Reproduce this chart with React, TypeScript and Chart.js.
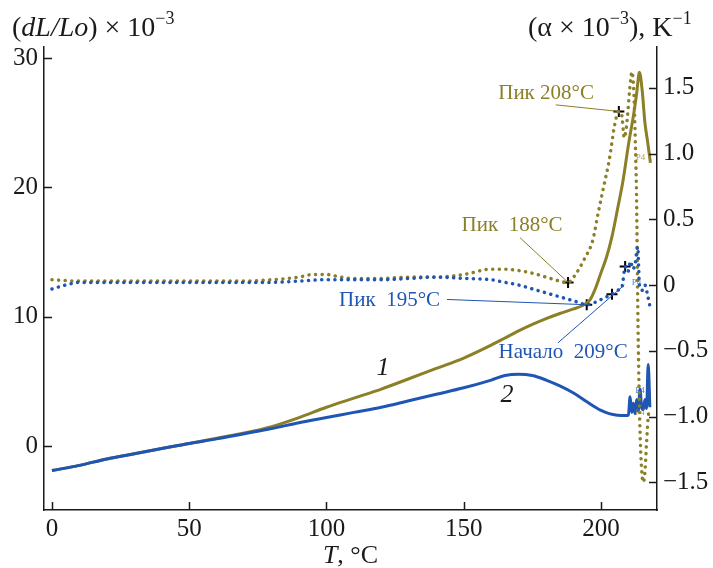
import React, { useEffect, useRef } from "react";
import { Chart, registerables } from "chart.js";

Chart.register(...registerables);

const OLIVE = "#8b7f27";
const BLUE = "#1f55b3";
const INK = "#1a1a1a";
const SERIF = "'Liberation Serif', 'Times New Roman', serif";

// Axis ticks
const xTicks = [0, 50, 100, 150, 200];
const leftTicks = [0, 10, 20, 30];
const rightTicks = [-1.5, -1, -0.5, 0, 0.5, 1, 1.5];
const rightTickLabels = ["\u22121.5", "\u22121.0", "\u22120.5", "0", "0.5", "1.0", "1.5"];

// Curve 1: dL/Lo (olive, solid, left axis)
const t1 = [0, 10, 20, 30, 40, 50, 60, 70, 80, 90, 100, 110, 120, 130, 140, 150, 160, 165, 170, 175, 180, 185, 190, 193, 196, 198, 200, 202, 204, 206, 208, 210, 212, 213, 214, 215, 216, 217, 218];
const dl1 = [-1.9, -1.5, -1.0, -0.6, -0.2, 0.2, 0.6, 1.0, 1.5, 2.2, 3.0, 3.7, 4.4, 5.2, 6.0, 6.8, 7.8, 8.35, 8.9, 9.4, 9.85, 10.25, 10.6, 10.85, 11.3, 12.2, 13.4, 14.6, 16.2, 18.3, 20.5, 23.3, 25.8, 27.3, 28.9, 27.5, 25.0, 23.5, 21.9];

// Curve 2: dL/Lo (blue, solid, left axis)
const t2 = [0, 10, 20, 30, 40, 50, 60, 70, 80, 90, 100, 110, 120, 130, 140, 150, 160, 165, 170, 175, 180, 185, 190, 195, 200, 203, 206, 209, 210, 210.6, 211.2, 211.8, 212.4, 213, 213.6, 214.2, 214.8, 215.4, 216, 216.6, 217.2, 217.8];
const dl2 = [-1.9, -1.5, -1.0, -0.6, -0.2, 0.2, 0.55, 0.95, 1.35, 1.8, 2.2, 2.6, 3.0, 3.5, 4.0, 4.5, 5.1, 5.45, 5.55, 5.45, 5.1, 4.65, 4.1, 3.4, 2.75, 2.5, 2.38, 2.35, 2.4, 3.8, 2.6, 3.3, 2.5, 3.6, 2.7, 4.4, 3.0, 2.8, 3.6, 2.9, 6.3, 3.0];

// Curve 1: alpha (olive, dotted, right axis)
const t3 = [0, 10, 20, 30, 40, 50, 60, 70, 80, 90, 95, 100, 105, 110, 120, 130, 140, 150, 160, 165, 170, 175, 180, 185, 188, 191, 194, 197, 199, 201, 203, 205, 206.5, 207.5, 208.5, 209.5, 210.5, 211.3, 212, 212.5, 213, 213.3, 213.7, 214.2, 214.8, 215.4, 216, 216.6, 217.2, 217.6];
const a3 = [0.04, 0.03, 0.03, 0.03, 0.03, 0.03, 0.03, 0.03, 0.04, 0.06, 0.08, 0.08, 0.06, 0.05, 0.05, 0.06, 0.06, 0.08, 0.12, 0.12, 0.11, 0.09, 0.06, 0.03, 0.02, 0.09, 0.2, 0.34, 0.55, 0.75, 0.95, 1.22, 1.32, 1.3, 1.12, 1.25, 1.5, 1.62, 1.45, 1.1, 0.6, 0.0, -0.6, -1.1, -1.4, -1.5, -1.42, -1.2, -1.0, -0.95];

// Curve 2: alpha (blue, dotted, right axis)
const t4 = [0, 5, 10, 20, 30, 40, 50, 60, 70, 80, 90, 100, 110, 120, 130, 140, 150, 160, 165, 170, 175, 180, 185, 190, 195, 198, 201, 204, 206, 207.6, 208.8, 209.8, 210.8, 211.6, 212.4, 213.4, 214, 215, 216, 217, 218];
const a4 = [-0.03, 0.0, 0.02, 0.02, 0.02, 0.02, 0.02, 0.02, 0.02, 0.02, 0.03, 0.04, 0.04, 0.04, 0.05, 0.06, 0.05, 0.04, 0.02, 0.0, -0.03, -0.06, -0.09, -0.12, -0.15, -0.13, -0.1, -0.07, -0.04, -0.02, 0.14, 0.1, 0.18, 0.12, 0.16, 0.29, 0.0, -0.04, 0.0, -0.08, -0.18];

// "+" markers (T, alpha)
const markT = [188, 206.5, 194.8, 204, 208.8];
const markA = [0.02, 1.32, -0.15, -0.07, 0.14];

// Annotations: text, colour, text centre (T, alpha), leader start (T, alpha), leader end (T, alpha)
const annTexts = ["Пик 208°C", "Пик  188°C", "Пик  195°C", "Начало  209°C"];
const annColors = [OLIVE, OLIVE, BLUE, BLUE];
const annX = [180.0, 167.6, 123.0, 186.2];
const annY = [1.46, 0.45, -0.12, -0.51];
const leadX0 = [183.5, 170.5, 143.9, 184.3];
const leadY0 = [1.37, 0.36, -0.11, -0.44];
const leadX1 = [206.5, 188, 194.8, 208.5];
const leadY1 = [1.32, 0.02, -0.15, 0.0];

// Curve number labels (T, dL/Lo)
const curveLabels = ["1", "2"];
const curveLabelX = [120.6, 165.8];
const curveLabelY = [6.0, 3.9];

// Small "Р4" tags (T, alpha)
const tagX = [214.4, 212.9, 214.2, 214.2];
const tagY = [0.97, 0.02, -0.8, -0.97];
const tagColors = [OLIVE, BLUE, BLUE, OLIVE];

const zip = (xs: number[], ys: number[]) => xs.map((x, i) => ({ x, y: ys[i] }));

type Seg = { text: string; italic?: boolean; sup?: boolean };

function drawRich(ctx: CanvasRenderingContext2D, segs: Seg[], x: number, y: number, size: number, align: "left" | "center" = "left") {
  const supSize = Math.round(size * 0.64);
  const fontOf = (s: Seg) => `${s.italic ? "italic " : ""}${s.sup ? supSize : size}px ${SERIF}`;
  let total = 0;
  for (const s of segs) {
    ctx.font = fontOf(s);
    total += ctx.measureText(s.text).width;
  }
  let cx = align === "center" ? x - total / 2 : x;
  ctx.textAlign = "left";
  ctx.textBaseline = "alphabetic";
  for (const s of segs) {
    ctx.font = fontOf(s);
    ctx.fillText(s.text, cx, s.sup ? y - size * 0.42 : y);
    cx += ctx.measureText(s.text).width;
  }
}

const overlayPlugin = {
  id: "overlay",
  afterDraw(chart: any) {
    const { ctx, chartArea } = chart;
    const xs = chart.scales.x;
    const yl = chart.scales.yL;
    const yr = chart.scales.yR;
    ctx.save();

    // inward tick marks
    ctx.strokeStyle = INK;
    ctx.lineWidth = 1.5;
    ctx.beginPath();
    leftTicks.forEach((v) => {
      const y = Math.round(yl.getPixelForValue(v)) + 0.5;
      ctx.moveTo(chartArea.left, y);
      ctx.lineTo(chartArea.left + 8, y);
    });
    rightTicks.forEach((v) => {
      const y = Math.round(yr.getPixelForValue(v)) + 0.5;
      ctx.moveTo(chartArea.right - 8, y);
      ctx.lineTo(chartArea.right, y);
    });
    xTicks.forEach((v) => {
      const x = Math.round(xs.getPixelForValue(v)) + 0.5;
      ctx.moveTo(x, chartArea.bottom);
      ctx.lineTo(x, chartArea.bottom - 8);
    });
    ctx.stroke();

    // leader lines
    ctx.lineWidth = 1;
    annTexts.forEach((_, i) => {
      ctx.strokeStyle = annColors[i];
      ctx.beginPath();
      ctx.moveTo(xs.getPixelForValue(leadX0[i]), yr.getPixelForValue(leadY0[i]));
      ctx.lineTo(xs.getPixelForValue(leadX1[i]), yr.getPixelForValue(leadY1[i]));
      ctx.stroke();
    });

    // annotation texts
    ctx.textAlign = "center";
    ctx.textBaseline = "middle";
    ctx.font = `21px ${SERIF}`;
    annTexts.forEach((txt, i) => {
      ctx.fillStyle = annColors[i];
      ctx.fillText(txt, xs.getPixelForValue(annX[i]), yr.getPixelForValue(annY[i]));
    });

    // curve labels
    ctx.fillStyle = INK;
    ctx.font = `italic 26px ${SERIF}`;
    curveLabels.forEach((txt, i) => {
      ctx.fillText(txt, xs.getPixelForValue(curveLabelX[i]), yl.getPixelForValue(curveLabelY[i]));
    });

    // tiny tags
    ctx.font = `9px ${SERIF}`;
    tagX.forEach((tx, i) => {
      ctx.fillStyle = tagColors[i];
      ctx.globalAlpha = 0.75;
      ctx.fillText("Р4", xs.getPixelForValue(tx), yr.getPixelForValue(tagY[i]));
    });
    ctx.globalAlpha = 1;

    // axis titles
    ctx.fillStyle = INK;
    drawRich(ctx, [{ text: "(" }, { text: "dL/Lo", italic: true }, { text: ") × 10" }, { text: "\u22123", sup: true }], 12, 36, 28);
    drawRich(ctx, [{ text: "(α × 10" }, { text: "\u22123", sup: true }, { text: "), K" }, { text: "\u22121", sup: true }], 528, 36, 28);
    drawRich(ctx, [{ text: "T", italic: true }, { text: ", °C" }], (chartArea.left + chartArea.right) / 2, 563, 26, "center");

    ctx.restore();
  },
};

export default function App() {
  const ref = useRef<HTMLCanvasElement | null>(null);

  useEffect(() => {
    if (!ref.current) return;
    const tickFont = { family: SERIF, size: 25 };
    const chart = new Chart(ref.current, {
      type: "line",
      data: {
        datasets: [
          {
            label: "α 2",
            data: zip(t4, a4),
            yAxisID: "yR",
            borderColor: BLUE,
            borderWidth: 3.5,
            borderDash: [0.1, 6.5],
            borderCapStyle: "round",
            pointRadius: 0,
            cubicInterpolationMode: "monotone",
          },
          {
            label: "α 1",
            data: zip(t3, a3),
            yAxisID: "yR",
            borderColor: OLIVE,
            borderWidth: 3.5,
            borderDash: [0.1, 6.5],
            borderCapStyle: "round",
            pointRadius: 0,
            cubicInterpolationMode: "monotone",
          },
          {
            label: "dL/Lo 2",
            data: zip(t2, dl2),
            yAxisID: "yL",
            borderColor: BLUE,
            borderWidth: 3,
            pointRadius: 0,
            cubicInterpolationMode: "monotone",
          },
          {
            label: "dL/Lo 1",
            data: zip(t1, dl1),
            yAxisID: "yL",
            borderColor: OLIVE,
            borderWidth: 3,
            pointRadius: 0,
            cubicInterpolationMode: "monotone",
          },
          {
            label: "markers",
            data: zip(markT, markA),
            yAxisID: "yR",
            showLine: false,
            pointStyle: "cross",
            pointRadius: 5.5,
            pointBorderWidth: 2,
            pointBorderColor: "#000",
            borderColor: "#000",
          },
        ] as any,
      },
      options: {
        animation: false,
        responsive: false,
        maintainAspectRatio: false,
        layout: { padding: { top: 47, left: 0, right: 0, bottom: 0 } },
        plugins: { legend: { display: false }, tooltip: { enabled: false } },
        scales: {
          x: {
            type: "linear",
            min: -2.9,
            max: 220.4,
            grid: { display: false, drawTicks: false },
            border: { display: true, color: INK, width: 1.5 },
            afterBuildTicks: (s: any) => {
              s.ticks = xTicks.map((v) => ({ value: v }));
            },
            afterFit: (s: any) => {
              s.height = 58;
            },
            ticks: { font: tickFont, color: INK, padding: 4, maxRotation: 0, autoSkip: false },
          },
          yL: {
            type: "linear",
            position: "left",
            min: -4.95,
            max: 30.86,
            grid: { display: false, drawTicks: false },
            border: { display: true, color: INK, width: 1.5 },
            afterBuildTicks: (s: any) => {
              s.ticks = leftTicks.map((v) => ({ value: v }));
            },
            afterFit: (s: any) => {
              s.width = 44;
            },
            ticks: { font: tickFont, color: INK, padding: 6, autoSkip: false },
          },
          yR: {
            type: "linear",
            position: "right",
            min: -1.711,
            max: 1.81,
            grid: { display: false, drawTicks: false },
            border: { display: true, color: INK, width: 1.5 },
            afterBuildTicks: (s: any) => {
              s.ticks = rightTicks.map((v) => ({ value: v }));
            },
            afterFit: (s: any) => {
              s.width = 56;
            },
            ticks: {
              font: tickFont,
              color: INK,
              padding: 6,
              autoSkip: false,
              callback: (v: any) => {
                const i = rightTicks.findIndex((r) => Math.abs(r - Number(v)) < 1e-6);
                return i >= 0 ? rightTickLabels[i] : "";
              },
            },
          },
        },
      } as any,
      plugins: [overlayPlugin],
    });
    return () => chart.destroy();
  }, []);

  return (
    <div style={{ position: "absolute", left: 0, top: 0, width: 713, height: 568, background: "#fff" }}>
      <canvas ref={ref} width={713} height={568} style={{ display: "block", width: 713, height: 568 }} />
    </div>
  );
}
